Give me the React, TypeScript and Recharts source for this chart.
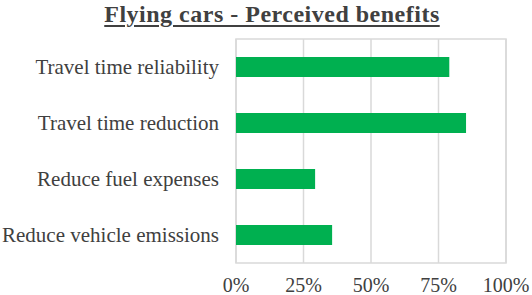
import React from 'react';
import { BarChart, Bar, XAxis, YAxis, CartesianGrid, ReferenceArea } from 'recharts';

const categories = [
  'Travel time reliability',
  'Travel time reduction',
  'Reduce fuel expenses',
  'Reduce vehicle emissions',
];
const shares = [0.79, 0.852, 0.293, 0.356];
const xTicks = [0, 0.25, 0.5, 0.75, 1];

const data = categories.map((name, i) => ({ name, value: shares[i] }));

const fmtPct = (v: number) => `${Math.round(v * 100)}%`;

const App: React.FC = () => {
  return (
    <div style={{ position: 'absolute', left: 0, top: 0, width: 532, height: 295, background: '#fff' }}>
      <div
        style={{
          position: 'absolute',
          top: 1,
          left: 12,
          width: 520,
          textAlign: 'center',
          fontFamily: '"Liberation Serif", serif',
          fontWeight: 'bold',
          fontSize: 24,
          lineHeight: '26px',
          letterSpacing: 0.5,
          color: '#404040',
          textDecoration: 'underline',
          textUnderlineOffset: 3,
          textDecorationThickness: 2,
        }}
      >
        Flying cars - Perceived benefits
      </div>
      <BarChart
        width={532}
        height={295}
        data={data}
        layout="vertical"
        margin={{ top: 39, right: 26, left: 0, bottom: 0 }}
      >
        {/* plot border + vertical gridlines */}
        <CartesianGrid horizontal={false} stroke="#d9d9d9" strokeWidth={1.5} />
        <ReferenceArea x1={0} x2={1} fill="none" stroke="#d9d9d9" strokeWidth={1.5} ifOverflow="visible" />
        <XAxis
          type="number"
          domain={[0, 1]}
          ticks={xTicks}
          tickFormatter={fmtPct}
          axisLine={false}
          tickLine={false}
          tickMargin={9}
          height={32}
          interval={0}
          tick={{ fill: '#404040', fontSize: 20, fontFamily: '"Liberation Serif", serif' }}
        />
        <YAxis
          type="category"
          dataKey="name"
          width={236}
          axisLine={false}
          tickLine={false}
          tickMargin={11}
          interval={0}
          tick={{ fill: '#404040', fontSize: 21, fontFamily: '"Liberation Serif", serif' }}
        />
        <Bar dataKey="value" fill="#00B050" barSize={20} isAnimationActive={false} />
      </BarChart>
    </div>
  );
};

export default App;
